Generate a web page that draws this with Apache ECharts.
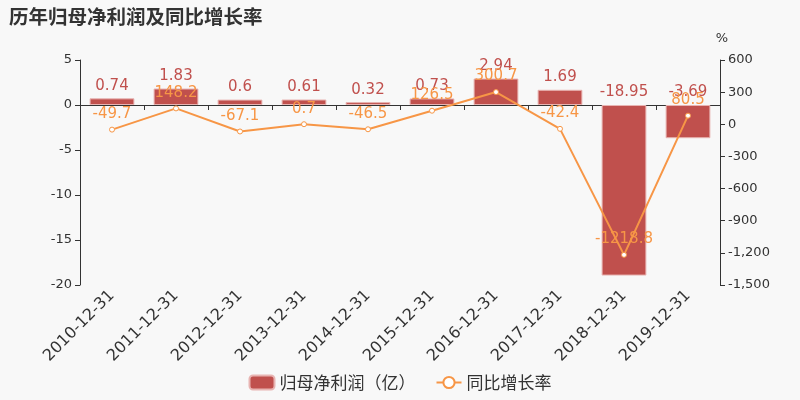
<!DOCTYPE html>
<html><head><meta charset="utf-8">
<script src="https://cdn.jsdelivr.net/npm/echarts@6/dist/echarts.min.js"></script>
<style>html,body{margin:0;padding:0;background:#f8f8f8}#c{width:800px;height:400px}</style>
</head><body><div id="c"></div>
<script>
var categories = ['2010-12-31','2011-12-31','2012-12-31','2013-12-31','2014-12-31','2015-12-31','2016-12-31','2017-12-31','2018-12-31','2019-12-31'];
var profit = [0.74, 1.83, 0.6, 0.61, 0.32, 0.73, 2.94, 1.69, -18.95, -3.69];
var growth = [-49.7, 148.2, -67.1, 0.7, -46.5, 126.5, 300.7, -42.4, -1218.8, 80.5];
var chart = echarts.init(document.getElementById('c'));
chart.setOption({
  backgroundColor: '#f8f8f8',
  textStyle: {fontFamily: '"DejaVu Sans", "Noto Sans CJK SC", sans-serif'},
  title: {text: '历年归母净利润及同比增长率', left: 4, top: 2, textStyle: {fontSize: 19.5, fontWeight: 'bold', color: '#333', fontFamily: '"Noto Sans CJK SC", sans-serif'}},
  legend: {bottom: 4, left: 'center', itemWidth: 25, itemHeight: 14, itemGap: 20, textStyle: {fontSize: 17, color: '#333', fontFamily: '"Noto Sans CJK SC", sans-serif'},
    data: [{name: '归母净利润（亿）', icon: 'roundRect'}, {name: '同比增长率'}]},
  grid: {left: 80, right: 80, top: 60, bottom: 115},
  xAxis: {type: 'category', data: categories,
    axisLine: {onZero: true, lineStyle: {color: '#333'}},
    axisTick: {show: true, lineStyle: {color: '#333'}},
    axisLabel: {rotate: 45, fontSize: 16, color: '#333', interval: 0}},
  yAxis: [
    {type: 'value', min: -20, max: 5, interval: 5, splitLine: {show: false},
      axisLine: {show: true, lineStyle: {color: '#333'}}, axisTick: {show: true},
      axisLabel: {fontSize: 13, color: '#333'}},
    {type: 'value', name: '%', nameTextStyle: {fontSize: 13, color: '#333', padding: [0, 0, 0, 4]}, min: -1500, max: 600, interval: 300, splitLine: {show: false},
      axisLine: {show: true, lineStyle: {color: '#333'}}, axisTick: {show: true},
      axisLabel: {fontSize: 13, color: '#333'}}
  ],
  series: [
    {name: '归母净利润（亿）', type: 'bar', data: profit, barWidth: '70%',
      itemStyle: {color: '#c0504d', borderColor: '#e8b4b2', borderWidth: 1},
      label: {show: true, position: 'top', fontSize: 15, color: '#c0504d'}},
    {name: '同比增长率', type: 'line', yAxisIndex: 1, data: growth,
      symbol: 'circle', symbolSize: 5, itemStyle: {color: '#fff', borderColor: '#f79646', borderWidth: 1},
      lineStyle: {color: '#f79646', width: 2},
      label: {show: true, position: 'top', fontSize: 15, color: '#f79646'}}
  ]
});
</script></body></html>
